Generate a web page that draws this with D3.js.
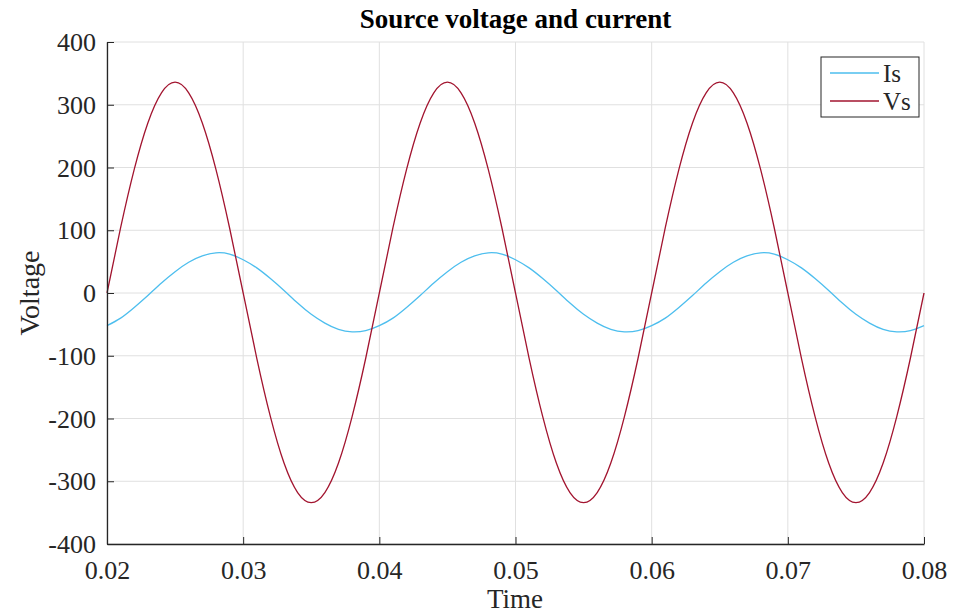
<!DOCTYPE html>
<html>
<head>
<meta charset="utf-8">
<script src="https://cdn.jsdelivr.net/npm/d3@7"></script>
<style>
html,body{margin:0;padding:0;background:#fff;}
svg{display:block;}
text{font-family:"Liberation Serif","Times New Roman",serif !important;fill:#262626;}
</style>
</head>
<body>
<svg id="chart" width="954" height="615"></svg>
<script>
const time = [0.020,0.021,0.022,0.023,0.024,0.025,0.026,0.027,0.028,0.029,
  0.030,0.031,0.032,0.033,0.034,0.035,0.036,0.037,0.038,0.039,
  0.040,0.041,0.042,0.043,0.044,0.045,0.046,0.047,0.048,0.049,
  0.050,0.051,0.052,0.053,0.054,0.055,0.056,0.057,0.058,0.059,
  0.060,0.061,0.062,0.063,0.064,0.065,0.066,0.067,0.068,0.069,
  0.070,0.071,0.072,0.073,0.074,0.075,0.076,0.077,0.078,0.079,0.080];
const vs = [0,104,197,271,319,336,319,271,197,104,
  0,-104,-197,-271,-318,-334,-318,-271,-197,-104,
  0,104,197,271,319,336,319,271,197,104,
  0,-104,-197,-271,-318,-334,-318,-271,-197,-104,
  0,104,197,271,319,336,319,271,197,104,
  0,-104,-197,-271,-318,-334,-318,-271,-197,-104,0];
const is = [-52,-40,-23,-4,16,34,49,59,64,62,
  53,40,23,4,-16,-34,-48,-58,-62,-60,
  -52,-40,-23,-4,16,34,49,59,64,62,
  53,40,23,4,-16,-34,-48,-58,-62,-60,
  -52,-40,-23,-4,16,34,49,59,64,62,
  53,40,23,4,-16,-34,-48,-58,-62,-60,-52];
const xTicks = [0.02,0.03,0.04,0.05,0.06,0.07,0.08];
const yTicks = [-400,-300,-200,-100,0,100,200,300,400];
const seriesNames = ["Is","Vs"];
const seriesColors = ["#4DBEEE","#A2142F"];

const SERIF = '"Liberation Serif","Times New Roman",serif';
const svg = d3.select("#chart");
const L=107, R=924, T=42, B=544;
const x = d3.scaleLinear().domain([0.02,0.08]).range([L,R]);
const y = d3.scaleLinear().domain([-400,400]).range([B,T]);

// grid
const g = svg.append("g");
g.selectAll(".vg").data(xTicks).join("line")
  .attr("x1",d=>x(d)).attr("x2",d=>x(d)).attr("y1",T).attr("y2",B)
  .attr("stroke","#e0e0e0").attr("stroke-width",1);
g.selectAll(".hg").data(yTicks).join("line")
  .attr("x1",L).attr("x2",R).attr("y1",d=>y(d)).attr("y2",d=>y(d))
  .attr("stroke","#e0e0e0").attr("stroke-width",1);

// lines
const series = [is, vs];
series.forEach((s,i)=>{
  const line = d3.line().x((d,j)=>x(time[j])).y(d=>y(d)).curve(d3.curveNatural);
  svg.append("path").datum(s).attr("d",line)
    .attr("fill","none").attr("stroke",seriesColors[i]).attr("stroke-width",1.3);
});

// axes
const xAxis = d3.axisBottom(x).tickValues(xTicks).tickSizeInner(-7).tickSizeOuter(0)
  .tickFormat(d3.format(".2f"));
const xa = svg.append("g").attr("transform",`translate(0,${B})`).call(xAxis);
xa.attr("font-family",SERIF);
xa.select(".domain").attr("stroke","#262626").attr("stroke-width",1.3);
xa.selectAll(".tick line").attr("stroke","#262626");
xa.selectAll(".tick text").attr("font-size",26).attr("fill","#262626")
  .style("font-family",SERIF).attr("y",35).attr("dy",0);

const yAxis = d3.axisLeft(y).tickValues(yTicks).tickSizeInner(-7).tickSizeOuter(0)
  .tickPadding(11).tickFormat(d=>d);
const ya = svg.append("g").attr("transform",`translate(${L},0)`).call(yAxis);
ya.attr("font-family",SERIF);
ya.select(".domain").attr("stroke","#262626").attr("stroke-width",1.3);
ya.selectAll(".tick line").attr("stroke","#262626");
ya.selectAll(".tick text").attr("font-size",26).attr("fill","#262626")
  .style("font-family",SERIF).attr("dy","0.33em");

// title & labels
svg.append("text").attr("x",(L+R)/2).attr("y",28).attr("text-anchor","middle")
  .attr("font-size",27).attr("font-weight","bold").style("fill","#000").text("Source voltage and current");
svg.append("text").attr("x",515).attr("y",608).attr("text-anchor","middle")
  .attr("font-size",27).text("Time");
svg.append("text").attr("transform",`translate(38.5,${(T+B)/2}) rotate(-90)`).attr("text-anchor","middle")
  .attr("font-size",28).text("Voltage");

// legend
const lg = svg.append("g");
lg.append("rect").attr("x",821).attr("y",57).attr("width",98).attr("height",60)
  .attr("fill","#fff").attr("stroke","#262626").attr("stroke-width",1);
seriesNames.forEach((n,i)=>{
  const yy = 73 + i*28;
  lg.append("line").attr("x1",830).attr("x2",879).attr("y1",yy).attr("y2",yy)
    .attr("stroke",seriesColors[i]).attr("stroke-width",1.3);
  lg.append("text").attr("x",883).attr("y",yy).attr("dy","0.35em")
    .attr("font-size",25).text(n);
});
</script>
</body>
</html>
